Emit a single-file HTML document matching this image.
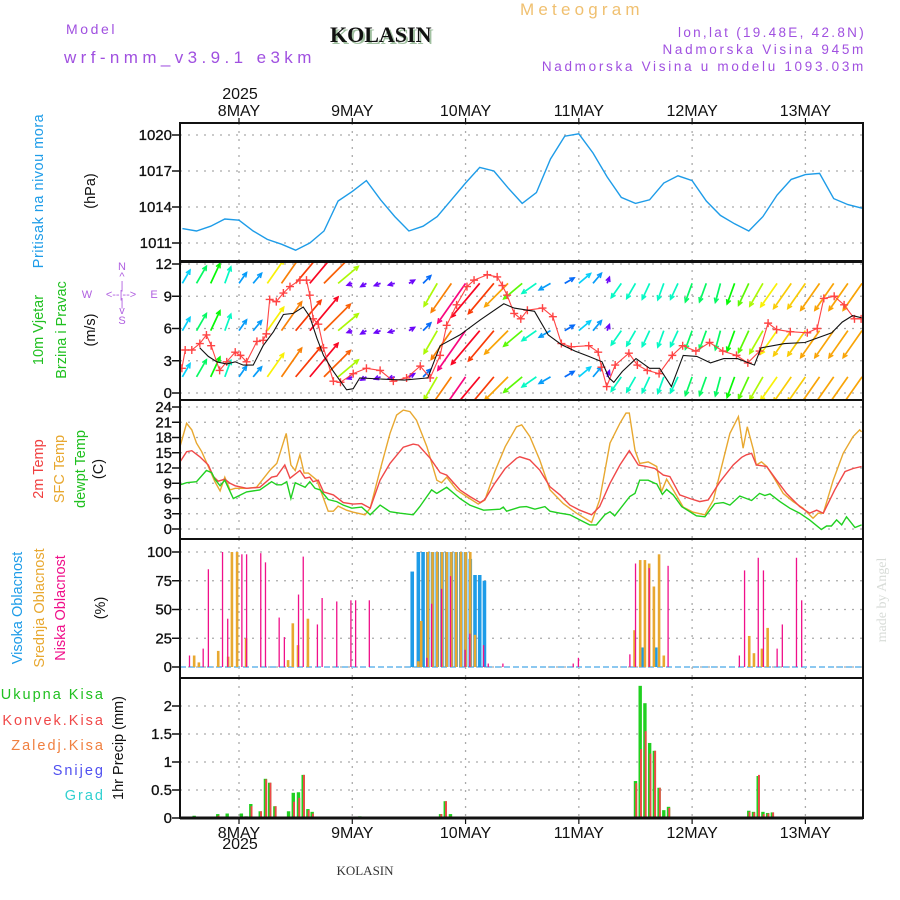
<!DOCTYPE html>
<html><head><meta charset="utf-8"><title>Meteogram KOLASIN</title>
<style>
html,body{margin:0;padding:0;background:#fff;}
svg{display:block;font-family:"Liberation Sans",sans-serif;}
</style></head>
<body>
<svg id="chart" width="900" height="900" viewBox="0 0 900 900" xmlns="http://www.w3.org/2000/svg">
<defs>
<clipPath id="clipP1"><rect x="180" y="123" width="683" height="138"/></clipPath>
<clipPath id="clipP2"><rect x="180" y="262" width="683" height="138"/></clipPath>
<clipPath id="clipP3"><rect x="180" y="400" width="683" height="139"/></clipPath>
<clipPath id="clipP4"><rect x="180" y="539" width="683" height="139"/></clipPath>
<clipPath id="clipP5"><rect x="180" y="678" width="683" height="140"/></clipPath>
</defs>
<!-- header -->
<text x="66" y="34" font-size="14" fill="#a050e0" letter-spacing="2.6">Model</text>
<text x="64" y="63" font-size="17" fill="#a050e0" letter-spacing="4.4">wrf-nmm_v3.9.1 e3km</text>
<text x="332" y="44" font-size="22" font-weight="bold" font-family="Liberation Serif, serif" fill="#a0c0a0">KOLASIN</text>
<text x="330" y="42" font-size="22" font-weight="bold" font-family="Liberation Serif, serif" fill="#111">KOLASIN</text>
<text x="520" y="15" font-size="17" fill="#f0c070" letter-spacing="4.2">Meteogram</text>
<text x="866" y="37" font-size="13.5" fill="#a050e0" text-anchor="end" letter-spacing="2.3">lon,lat (19.48E, 42.8N)</text>
<text x="866" y="54" font-size="13.5" fill="#a050e0" text-anchor="end" letter-spacing="2.7">Nadmorska Visina 945m</text>
<text x="866" y="71" font-size="13.5" fill="#a050e0" text-anchor="end" letter-spacing="2.7">Nadmorska Visina u modelu 1093.03m</text>
<text x="240" y="99" font-size="16" fill="#111" text-anchor="middle">2025</text>
<text x="240" y="849" font-size="16" fill="#111" text-anchor="middle">2025</text>
<text x="365" y="875" font-size="13" font-family="Liberation Serif, serif" fill="#333" text-anchor="middle">KOLASIN</text>
<text transform="translate(886,600) rotate(-90)" font-size="14" font-family="Liberation Serif, serif" fill="#d8dcd8" text-anchor="middle">made by Angel</text>
<!-- left labels -->
<text transform="translate(43,191) rotate(-90)" font-size="14.5" fill="#1e9ce8" text-anchor="middle" letter-spacing="0.5">Pritisak na nivou mora</text>
<text transform="translate(95,191) rotate(-90)" font-size="14.5" fill="#111" text-anchor="middle">(hPa)</text>
<text transform="translate(43,330) rotate(-90)" font-size="14.5" fill="#20c020" text-anchor="middle">10m Vjetar</text>
<text transform="translate(66,330) rotate(-90)" font-size="14.5" fill="#20c020" text-anchor="middle">Brzina i Pravac</text>
<text transform="translate(95,330) rotate(-90)" font-size="14.5" fill="#111" text-anchor="middle">(m/s)</text>
<g fill="#b060e0" font-size="11" text-anchor="middle">
<text x="87" y="298">W</text><text x="121" y="298">&lt;--|--&gt;</text><text x="154" y="298">E</text>
<text x="122" y="270">N</text>
<text x="122" y="280">^</text>
<text x="122" y="289">|</text>
<text x="122" y="306">|</text>
<text x="122" y="314">v</text>
<text x="122" y="324">S</text>
</g>
<text transform="translate(43,469) rotate(-90)" font-size="14.5" fill="#f04040" text-anchor="middle">2m Temp</text>
<text transform="translate(64,469) rotate(-90)" font-size="14.5" fill="#e8a830" text-anchor="middle">SFC Temp</text>
<text transform="translate(85,469) rotate(-90)" font-size="14.5" fill="#20c020" text-anchor="middle">dewpt Temp</text>
<text transform="translate(103,469) rotate(-90)" font-size="14.5" fill="#111" text-anchor="middle">(C)</text>
<text transform="translate(22,608) rotate(-90)" font-size="14.5" fill="#1e9ce8" text-anchor="middle">Visoka Oblacnost</text>
<text transform="translate(44,608) rotate(-90)" font-size="14.5" fill="#e8a830" text-anchor="middle">Srednja Oblacnost</text>
<text transform="translate(65,608) rotate(-90)" font-size="14.5" fill="#f0108a" text-anchor="middle">Niska Oblacnost</text>
<text transform="translate(105,608) rotate(-90)" font-size="14.5" fill="#111" text-anchor="middle">(%)</text>
<g font-size="14.5" text-anchor="end" letter-spacing="2">
<text x="105" y="699" fill="#20c020">Ukupna Kisa</text>
<text x="105" y="725" fill="#f04848">Konvek.Kisa</text>
<text x="105" y="750" fill="#f08040">Zaledj.Kisa</text>
<text x="105" y="775" fill="#5050f0">Snijeg</text>
<text x="105" y="800" fill="#30d0d0">Grad</text>
</g>
<text transform="translate(123,748) rotate(-90)" font-size="14.5" fill="#111" text-anchor="middle">1hr Precip (mm)</text>
<g id="plot"></g>
</svg>
<script>
// ---------- data ----------
const dayLabels = ["8MAY","9MAY","10MAY","11MAY","12MAY","13MAY"];
const dayHours = [0,24,48,72,96,120];

const presTicks = [1011,1014,1017,1020];
const presHours = [-12,-9,-6,-3,0,3,6,9,12,15,18,21,24,27,30,33,36,39,42,45,48,51,54,57,60,63,66,69,72,75,78,81,84,87,90,93,96,99,102,105,108,111,114,117,120,123,126,129,132];
const presVals = [1012.2,1012.0,1012.4,1013.0,1012.9,1012.0,1011.3,1010.9,1010.4,1011.0,1012.0,1014.5,1015.3,1016.2,1014.6,1013.2,1012.0,1012.4,1013.2,1014.6,1016.0,1017.3,1017.0,1015.6,1014.3,1015.2,1018.0,1019.9,1020.1,1018.5,1016.5,1014.8,1014.3,1014.6,1016.0,1016.6,1016.2,1014.5,1013.3,1012.6,1012.0,1013.2,1015.0,1016.3,1016.7,1016.8,1014.7,1014.2,1013.9];

const windTicks = [0,3,6,9,12];
const windRowLevels = [1.5,5.8,10.2];
const windHours = [-12,-9,-6,-3,0,3,6,9,12,15,18,21,24,27,30,33,36,39,42,45,48,51,54,57,60,63,66,69,72,75,78,81,84,87,90,93,96,99,102,105,108,111,114,117,120,123,126,129,132];
const windDir = [30,30,25,20,35,40,35,35,40,40,45,50,250,240,250,255,60,45,210,215,215,220,220,225,230,235,240,60,50,40,20,215,210,205,200,205,200,200,195,200,205,210,215,215,215,215,215,215,215];
const windSpd = [7,9,10,8,6,6,13,16,18,20,17,12,2.5,3,3,3,3,5,12,16,22,20,18,15,11,8,6,5,7,6,3,8,8,8,8,8,9,9,9,10,11,12,13,14,14,15,15,15,15];
const speedHours = [-8.3,-6.5,-4.7,-2.6,-0.8,0.9,3.0,5.1,7.3,9.4,11.5,13.6,15.0,16.5,17.9,20.0,22.8,24.2,25.6,30,35,40,42.6,46.8,51.1,56.1,58.3,62.6,65.5,68.3,71.2,74.1,76.9,78.4,79.4,81.2,84.1,87.0,89.1,91.6,94.1,97.0,99.9,102.7,105.6,109.2,110.6,115.6,119.9,125.6,127.8,130.0,131.9];
const speedVals = [4.2,3.4,2.9,2.7,2.9,2.6,2.6,4.4,5.7,7.3,7.4,8.0,7.1,5.1,3.5,2.0,0.3,0.4,1.4,1.3,1.2,1.4,4.4,5.4,6.8,8.3,7.9,7.6,5.4,4.5,3.9,3.4,2.9,1.4,1.0,2.0,3.2,2.3,2.3,0.6,3.5,3.4,2.8,3.2,3.2,2.6,4.2,4.6,4.7,5.6,6.6,7.2,7.0];
const gustHours = [-12.1,-11.4,-10,-8.3,-6.9,-5.9,-4.1,-2.6,-0.8,0.3,1.6,3.8,5.1,5.8,6.5,7.9,9.4,10.8,12.9,14.3,15.0,15.7,16.8,17.9,20,21.5,24.2,27.0,29.9,32.7,35.5,38.4,40.5,42.6,44.0,46.1,48.3,49.8,52.6,54.7,55.8,56.8,58.3,59.7,61.1,64.3,66.5,68.3,70.4,74.1,76.1,76.8,77.9,79.7,82.6,84.4,86.5,89.0,91.8,94.0,96.8,99.7,102.5,105.4,107.8,110.3,112.1,113.9,116.8,120.4,122.5,123.9,126.1,128.2,130.4,131.8];
const gustVals = [2.3,4.0,4.0,4.6,5.4,4.4,2.1,2.9,3.8,3.5,2.9,4.8,4.9,5.5,8.7,8.5,9.3,9.9,10.5,10.5,9.1,6.9,6.4,4.2,1.1,1.0,1.8,2.3,2.1,1.1,1.4,2.5,1.4,3.5,6.3,8.2,9.9,10.5,11.0,10.8,10.0,9.1,7.4,6.9,7.7,7.9,7.1,4.6,4.3,4.4,3.8,2.4,0.6,2.6,3.7,2.6,2.1,1.8,3.5,4.4,3.9,4.7,3.9,3.5,2.8,3.9,6.5,5.9,5.7,5.6,6.0,8.8,9.0,8.2,6.9,6.9];

const tempTicks = [0,3,6,9,12,15,18,21,24];
const sfcHours = [-12.5,-11.1,-10.0,-9.0,-7.9,-6.5,-5.1,-4.0,-3.0,-1.9,-0.8,1.6,3.7,6.6,8.0,10.0,11.0,11.9,12.9,13.8,14.7,16.5,18.9,20.0,21.0,22.8,24.2,26.7,27.8,29.9,32.0,33.4,34.8,36.2,37.6,39.8,41.9,42.9,44.0,46.1,48.2,50.7,52.1,54.2,56.4,58.8,59.9,61.6,63.7,65.9,68.7,71.5,74.7,76.4,78.6,80.7,82.0,82.7,83.9,84.9,86.7,88.5,89.5,90.6,92.0,94.1,96.2,98.7,100.5,101.9,104.0,105.8,106.8,107.7,109.0,109.6,110.7,111.8,113.2,115.3,117.4,119.5,121.6,122.7,123.8,125.9,128.0,130.1,131.5,131.9];
const sfcVals = [16.2,20.8,19.5,16.9,15.2,12.3,9.3,7.5,10.2,7.7,8.0,8.0,8.2,11.6,12.9,18.8,12.6,11.5,14.6,11.0,11.0,9.6,3.5,3.5,4.5,3.7,3.3,2.8,4.1,11.6,18.8,22.4,23.4,23.1,21.4,16.2,9.6,9.1,10.2,7.7,6.4,4.9,5.7,11.3,16.2,20.1,20.5,18.2,13.6,7.7,5.0,3.1,1.3,5.7,16.9,20.8,22.8,22.8,15.5,12.9,13.2,12.3,7.3,9.8,7.7,4.3,3.3,2.8,5.7,11.0,18.8,22.1,15.9,20.1,15.5,12.6,13.2,12.3,10.3,7.0,5.4,4.1,2.1,3.1,3.1,9.6,14.9,18.2,19.5,19.1];
const t2Hours = [-12.5,-11.1,-10.0,-8.3,-6.5,-5.4,-4.4,-3.0,-1.9,-0.8,1.6,4.4,6.9,8.0,9.7,10.8,12.9,14.0,15.0,15.7,16.8,17.9,20.0,22.1,24.2,26.0,27.8,29.9,32.0,34.8,36.9,38.0,40.5,42.6,44.0,46.8,48.9,51.1,52.1,54.2,56.4,58.8,59.5,61.6,63.7,65.9,68.0,70.1,72.2,74.7,76.4,78.6,80.7,82.7,84.6,86.3,88.1,89.9,91.3,93.4,95.5,97.6,99.4,101.9,104.7,106.5,107.5,108.6,109.6,111.8,113.9,116.0,118.8,120.9,122.4,123.8,126.2,128.4,130.1,131.9];
const t2Vals = [13.2,15.2,15.4,14.2,12.6,10.3,9.4,9.8,9.0,8.5,8.0,8.2,10.2,10.4,12.6,10.0,11.5,10.0,10.2,9.3,9.6,7.3,6.7,5.2,4.9,5.0,4.1,9.6,12.9,16.1,16.7,16.5,13.9,11.1,10.6,7.7,6.4,5.2,5.8,9.0,11.9,13.9,14.2,13.6,11.6,8.3,6.7,4.7,3.7,2.8,4.4,9.0,12.6,15.4,12.6,12.3,11.9,10.6,10.3,6.7,6.0,5.4,5.7,9.3,12.6,14.1,14.6,14.9,12.6,12.3,9.6,7.0,4.4,3.1,3.7,3.1,7.7,11.3,11.9,12.3];
const dewHours = [-12.5,-11.1,-9.0,-6.9,-5.8,-5.1,-4.0,-3.0,-1.2,1.6,4.4,6.9,8.0,9.0,10.1,11.0,11.9,14.0,15.0,16.1,17.2,18.9,20.7,22.1,23.9,26.0,27.8,29.9,32.0,34.1,36.9,38.3,40.8,41.9,44.0,46.8,48.9,51.8,55.3,56.0,56.7,59.5,60.9,62.7,64.8,65.9,68.0,70.1,72.2,74.3,75.7,77.5,78.6,79.6,82.8,83.9,84.9,86.7,88.1,88.5,89.7,90.6,92.0,93.8,95.5,96.9,98.7,100.8,102.6,104.0,106.1,108.6,110.3,111.4,112.5,114.6,116.7,118.8,120.9,123.4,124.5,125.5,126.6,127.7,128.7,130.5,131.9];
const dewVals = [8.7,9.1,9.3,11.5,11.1,9.8,8.5,9.6,6.0,7.3,7.7,9.3,8.7,8.7,9.3,6.0,9.1,8.2,9.3,8.0,7.7,5.8,5.4,4.7,4.1,4.3,2.8,4.7,3.4,3.1,2.8,4.4,7.7,7.0,8.2,6.0,4.7,3.7,3.9,4.3,3.5,4.3,4.4,3.9,4.4,3.5,3.1,2.8,1.8,0.8,0.8,2.8,3.4,2.6,6.4,7.0,9.6,9.6,9.0,8.9,6.8,7.8,6.7,4.4,3.4,2.6,2.4,5.0,5.2,4.7,6.5,5.6,7.0,6.6,6.9,5.4,4.1,3.1,1.8,-0.1,0.6,0.6,1.8,0.8,2.4,0.3,0.8];

const cloudTicks = [0,25,50,75,100];
const highHours = [36.7,38,39,40,41,42,43,44,45,46,47,48,49,50,51,52,85.5,88.3];
const highVals = [83,100,100,100,100,100,100,100,100,100,100,100,94,80,80,75,17,17];
const midHours = [-9.5,-8.5,-4.4,-2.3,-1.5,-0.4,1.5,10.4,11.4,12.5,14.6,38,38.6,40,41,42,43,44,45,46,47,48,49,50,83.8,85.0,86.0,86.9,87.9,89.0,90.0,108.1,109.1,110.8,112.0];
const midVals = [10,4,14,9,100,100,25,6,38,19,42,5,40,100,100,100,100,100,100,100,100,100,100,28,32,93,93,90,70,98,10,27,12,16,34];
const lowHours = [-10.5,-7.6,-6.5,-3.5,-2.4,0.6,1.6,4.6,5.6,8.5,9.6,12.6,13.6,16.6,17.6,20.7,23.7,24.7,27.6,39.8,40.8,42.9,44.8,47.9,48.9,51.8,52.8,55.9,70.8,71.9,82.8,84.0,86.9,90.9,106.0,107.1,110.0,111.1,114.0,115.1,118.1,119.2];
const lowVals = [10,16,85,100,42,98,98,99,91,43,26,63,96,37,60,57,58,58,58,8,55,68,79,15,29,19,3,3,3,8,11,90,86,88,10,84,95,84,16,37,95,58];

const precipTicks = [0,0.5,1,1.5,2];
const precipTickLabels = ["0","0.5","1","1.5","2"];
const precipHours = [-9.5,-4.5,-2.5,0.5,1.5,2.5,4.5,5.6,6.5,7.6,10.5,11.5,12.6,13.6,14.6,15.5,25.6,42.7,43.7,44.8,84,85,86,87,88,89,90,91,108,109,110,111,112,113];
const totalPrecip = [0.04,0.07,0.08,0.08,0.03,0.25,0.12,0.70,0.63,0.21,0.12,0.45,0.46,0.77,0.16,0.11,0.03,0.07,0.30,0.07,0.66,2.36,2.05,1.34,1.20,0.54,0.14,0.20,0.13,0.11,0.75,0.11,0.09,0.10];
const convPrecip = [0.02,0.04,0,0,0,0.21,0.12,0.69,0.63,0.21,0,0.29,0.36,0.77,0.14,0.08,0,0.07,0.30,0.03,0.62,1.23,1.55,1.15,1.20,0.54,0.03,0.18,0.11,0.10,0.77,0.07,0.08,0.10];

// ---------- scales ----------
const X0 = 180, X1 = 863;
function xH(h){ return 239 + h*4.72; }
const yP = v => 135 + (1020 - v)*12;
const yW = v => 393 - v*10.75;
const yT = v => 529 - v*5.083;
const yC = v => 667 - v*1.15;
const yR = v => 818 - v*56;

const NS = "http://www.w3.org/2000/svg";
const plot = document.getElementById("plot");
function mk(tag, attrs, parent){
  const e = document.createElementNS(NS, tag);
  for (const k in attrs) e.setAttribute(k, attrs[k]);
  (parent||plot).appendChild(e);
  return e;
}
function group(name, clip){
  const g = mk("g", clip ? {"clip-path":"url(#"+clip+")"} : {});
  
  
  return g;
}

const panels = [
  {name:"pressure", top:123, bot:261, ticks:presTicks, labels:presTicks.map(String), y:yP},
  {name:"wind", top:262, bot:400, ticks:windTicks, labels:windTicks.map(String), y:yW},
  {name:"temperature", top:400, bot:539, ticks:tempTicks, labels:tempTicks.map(String), y:yT},
  {name:"cloud", top:539, bot:678, ticks:cloudTicks, labels:cloudTicks.map(String), y:yC},
  {name:"precip", top:678, bot:818, ticks:precipTicks, labels:precipTickLabels, y:yR}
];

panels.forEach(p => {
  const g = group(p.name+"-grid", null);
  p.ticks.forEach((t,i) => {
    const y = p.y(t);
    const gl = mk("line",{x1:X0,x2:X1,y1:y,y2:y,stroke:"#aaa","stroke-width":1.3,"stroke-dasharray":"2,6"},g);
    
    
    const tk = mk("line",{x1:X0-8,x2:X0,y1:y,y2:y,stroke:"#111","stroke-width":1.5},g);
    
    
    const tl = mk("text",{x:X0-8,y:y+5,"font-size":15,"text-anchor":"end",fill:"#111",stroke:"#111","stroke-width":0.3},g);
    tl.textContent = p.labels[i];
    
    
  });
  dayHours.forEach(h => {
    const x = xH(h);
    const vl = mk("line",{x1:x,x2:x,y1:p.top,y2:p.bot,stroke:"#aaa","stroke-width":1.3,"stroke-dasharray":"2,6"},g);
    
    
  });
});

const dg = group("time-axis", null);
dayHours.forEach((h,i) => {
  const x = xH(h);
  const t1 = mk("text",{x:x,y:116,"font-size":16,"text-anchor":"middle",fill:"#111"},dg);
  t1.textContent = dayLabels[i];
  
  
  const t2 = mk("text",{x:x,y:838,"font-size":16,"text-anchor":"middle",fill:"#111"},dg);
  t2.textContent = dayLabels[i];
  
  
  const k1 = mk("line",{x1:x,x2:x,y1:118,y2:123,stroke:"#111","stroke-width":1.2},dg);
  
  
  const k2 = mk("line",{x1:x,x2:x,y1:818,y2:824,stroke:"#111","stroke-width":1.2},dg);
  
  
});

function linePath(hours, vals, yf){
  return hours.map((h,i)=>(i?"L":"M")+xH(h).toFixed(1)+","+yf(vals[i]).toFixed(1)).join(" ");
}

const gP = group("pressure-series", "clipP1");
const pl = mk("path",{d:linePath(presHours,presVals,yP),fill:"none",stroke:"#1e9ce8","stroke-width":1.4},gP);



function windColor(s){
  const stops=[[0,275],[3,265],[5,215],[7,190],[10,120],[13,58],[16,30],[19,5],[22,-30]];
  let hue=stops[stops.length-1][1];
  for(let i=0;i<stops.length-1;i++){
    if(s>=stops[i][0] && s<=stops[i+1][0]){
      const f=(s-stops[i][0])/(stops[i+1][0]-stops[i][0]);
      hue=stops[i][1]+f*(stops[i+1][1]-stops[i][1]); break;
    }
  }
  return "hsl("+((hue+360)%360).toFixed(0)+",95%,50%)";
}
const gW = group("wind-series", "clipP2");
windRowLevels.forEach((lev,r) => {
  windHours.forEach((h,i) => {
    const x = xH(h), y = yW(lev);
    const L = windSpd[i]*2.2;
    const a = windDir[i]*Math.PI/180;
    const x2 = x + L*Math.sin(a), y2 = y - L*Math.cos(a);
    const col = windColor(windSpd[i]);
    const ar = mk("line",{x1:x,y1:y,x2:x2,y2:y2,stroke:col,"stroke-width":1.7},gW);
    
    
    const hx1 = x2 - 5*Math.sin(a-0.45), hy1 = y2 + 5*Math.cos(a-0.45);
    const hx2 = x2 - 5*Math.sin(a+0.45), hy2 = y2 + 5*Math.cos(a+0.45);
    const hd = mk("path",{d:"M"+hx1+","+hy1+" L"+x2+","+y2+" L"+hx2+","+hy2,fill:"none",stroke:col,"stroke-width":1.5},gW);
    
    
  });
});
const gl1 = mk("path",{d:linePath(gustHours,gustVals,yW),fill:"none",stroke:"#ff4444","stroke-width":1.1},gW);


gustHours.forEach((h,i)=>{
  const x=xH(h), y=yW(gustVals[i]);
  const m = mk("path",{d:"M"+(x-4)+","+y+"H"+(x+4)+"M"+x+","+(y-4)+"V"+(y+4),stroke:"#ff4444","stroke-width":1.4},gW);
  
  
});
const sp = mk("path",{d:linePath(speedHours,speedVals,yW),fill:"none",stroke:"#111","stroke-width":1.1},gW);



const gT = group("temperature-series", "clipP3");
const tsfc = mk("path",{d:linePath(sfcHours,sfcVals,yT),fill:"none",stroke:"#e8a830","stroke-width":1.4},gT);


const t2l = mk("path",{d:linePath(t2Hours,t2Vals,yT),fill:"none",stroke:"#f04848","stroke-width":1.4},gT);


const dl = mk("path",{d:linePath(dewHours,dewVals,yT),fill:"none",stroke:"#20d020","stroke-width":1.4},gT);



const gC = group("cloud-series", "clipP4");
const base = mk("line",{x1:X0,x2:X1,y1:yC(0),y2:yC(0),stroke:"#8cc8f0","stroke-width":2,"stroke-dasharray":"6,3"},gC);


highHours.forEach((h,i)=>{
  const b = mk("rect",{x:xH(h)-1.8,y:yC(highVals[i]),width:3.6,height:yC(0)-yC(highVals[i]),fill:"#1e9ce8"},gC);
  
  
});
midHours.forEach((h,i)=>{
  const b = mk("rect",{x:xH(h)-1.3,y:yC(midVals[i]),width:2.6,height:yC(0)-yC(midVals[i]),fill:"#e8a830"},gC);
  
  
});
lowHours.forEach((h,i)=>{
  const b = mk("rect",{x:xH(h)-0.6,y:yC(lowVals[i]),width:1.3,height:yC(0)-yC(lowVals[i]),fill:"#f0108a"},gC);
  
  
});

const gR = group("precip-series", "clipP5");
precipHours.forEach((h,i)=>{
  const x = xH(h);
  const b = mk("rect",{x:x-1.7,y:yR(totalPrecip[i]),width:3.4,height:yR(0)-yR(totalPrecip[i]),fill:"#20d020"},gR);
  
  
  const c = mk("rect",{x:x-0.2,y:yR(convPrecip[i]),width:1.9,height:yR(0)-yR(convPrecip[i]),fill:"#f04848"},gR);
  
  
});

const gF = group("panel-frames", null);
panels.forEach(p=>{
  const r = mk("rect",{x:X0,y:p.top,width:X1-X0,height:p.bot-p.top,fill:"none",stroke:"#111","stroke-width":2},gF);
  
  
});
const bl = mk("line",{x1:X0,x2:X1,y1:818,y2:818,stroke:"#111","stroke-width":3},gF);


</script>
</body></html>
